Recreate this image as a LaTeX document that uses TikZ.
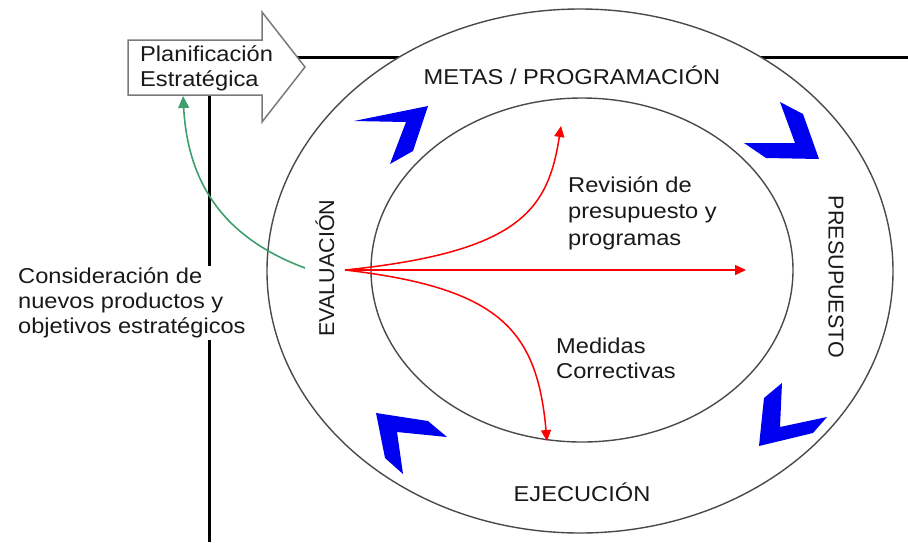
\documentclass[tikz,border=0pt]{standalone}
\usepackage{fontspec}
\setmainfont{Liberation Sans}[FakeStretch=1.1]
\newfontfamily\rotfont{Liberation Sans}
\usetikzlibrary{arrows.meta}
\definecolor{ringgray}{HTML}{4A4A4A}
\definecolor{boxgray}{HTML}{7A7A7A}
\definecolor{greenarr}{HTML}{3F9E6E}
\definecolor{chevblue}{HTML}{0000F0}
\begin{document}
\begin{tikzpicture}[x=1pt,y=-1pt,
  lbl/.style={font=\fontsize{21.5}{25}\selectfont, inner sep=0pt, text=black!90},
  rlbl/.style={font=\rotfont\fontsize{21.5}{25}\selectfont, inner sep=0pt, text=black!90},
  ring/.style={draw=ringgray, line width=1.4pt},
  frameline/.style={draw=black, line width=3pt},
  redarr/.style={draw=red, line width=1.5pt, -{Triangle[length=11pt,width=10pt]}},
  greenarrow/.style={draw=greenarr, line width=1.6pt, -{Triangle[length=12pt,width=11pt]}},
  chev/.style={fill=chevblue, draw=none}]
\useasboundingbox (0,0) rectangle (908,542);

% frame lines
\coordinate (vtop) at (209,95);
\coordinate (vbot) at (209,542);
\coordinate (hl) at (290,57);
\coordinate (hr) at (908,57);
\draw[frameline] (vtop) -- (vbot);
\draw[frameline] (hl) -- (hr);

% arrow box
\draw[draw=boxgray, fill=white, line width=1.5pt]
  (128,40) -- (262,40) -- (262,12) -- (305,67) -- (262,122) -- (262,95) -- (128,95) -- cycle;
\node[lbl, anchor=west, align=left] (plan) at (140,68) {Planificación\\Estratégica};

% ellipses
\coordinate (ctr) at (580,271);
\draw[ring, fill=white] (ctr) ellipse [x radius=313, y radius=262];
\draw[ring, fill=white] (582,270) ellipse [x radius=211, y radius=172];

% chevrons
\fill[chev] (354,121) -- (428,106) -- (413,151) -- (390,164) -- (406,122) -- cycle;
\fill[chev] (780,102) -- (803,114) -- (819,159) -- (766,158) -- (744,143) -- (795,143) -- cycle;
\fill[chev] (376,413) -- (428,421) -- (447,437) -- (397,432) -- (403,474) -- (385,458) -- cycle;
\fill[chev] (782,383) -- (780,427) -- (827,417) -- (813,433) -- (759,446) -- (764,398) -- cycle;

% labels
\node[lbl] (metas) at (572,75) {METAS / PROGRAMACIÓN};
\node[lbl] (ejec) at (582,492) {EJECUCIÓN};
\node[rlbl, rotate=90] (eval) at (325,268) {EVALUACIÓN};
\node[rlbl, rotate=-90] (presu) at (836,277) {PRESUPUESTO};
\node[lbl, anchor=west, align=left, font=\fontsize{21.5}{26.5}\selectfont] (rev) at (568,213) {Revisión de\\presupuesto y\\programas};
\node[lbl, anchor=west, align=left] (med) at (556,358) {Medidas\\Correctivas};
\node[lbl, anchor=west, align=left, fill=white, inner sep=2pt] (cons) at (16,303) {Consideración de\\nuevos productos y\\objetivos estratégicos};

% red arrows
\coordinate (o) at (345,270);
\coordinate (tup) at (561,126);
\coordinate (tmid) at (746,270);
\coordinate (tdown) at (547,441);
\draw[redarr] (o) -- (tmid);
\draw[redarr] (o) .. controls (520,252) and (548,210) .. (tup);
\draw[redarr] (o) .. controls (500,288) and (537,330) .. (tdown);

% green arrow
\coordinate (gs) at (305,268);
\coordinate (ge) at (183,96);
\draw[greenarrow] (gs) .. controls (225,238) and (188,185) .. (ge);
\end{tikzpicture}
\end{document}
